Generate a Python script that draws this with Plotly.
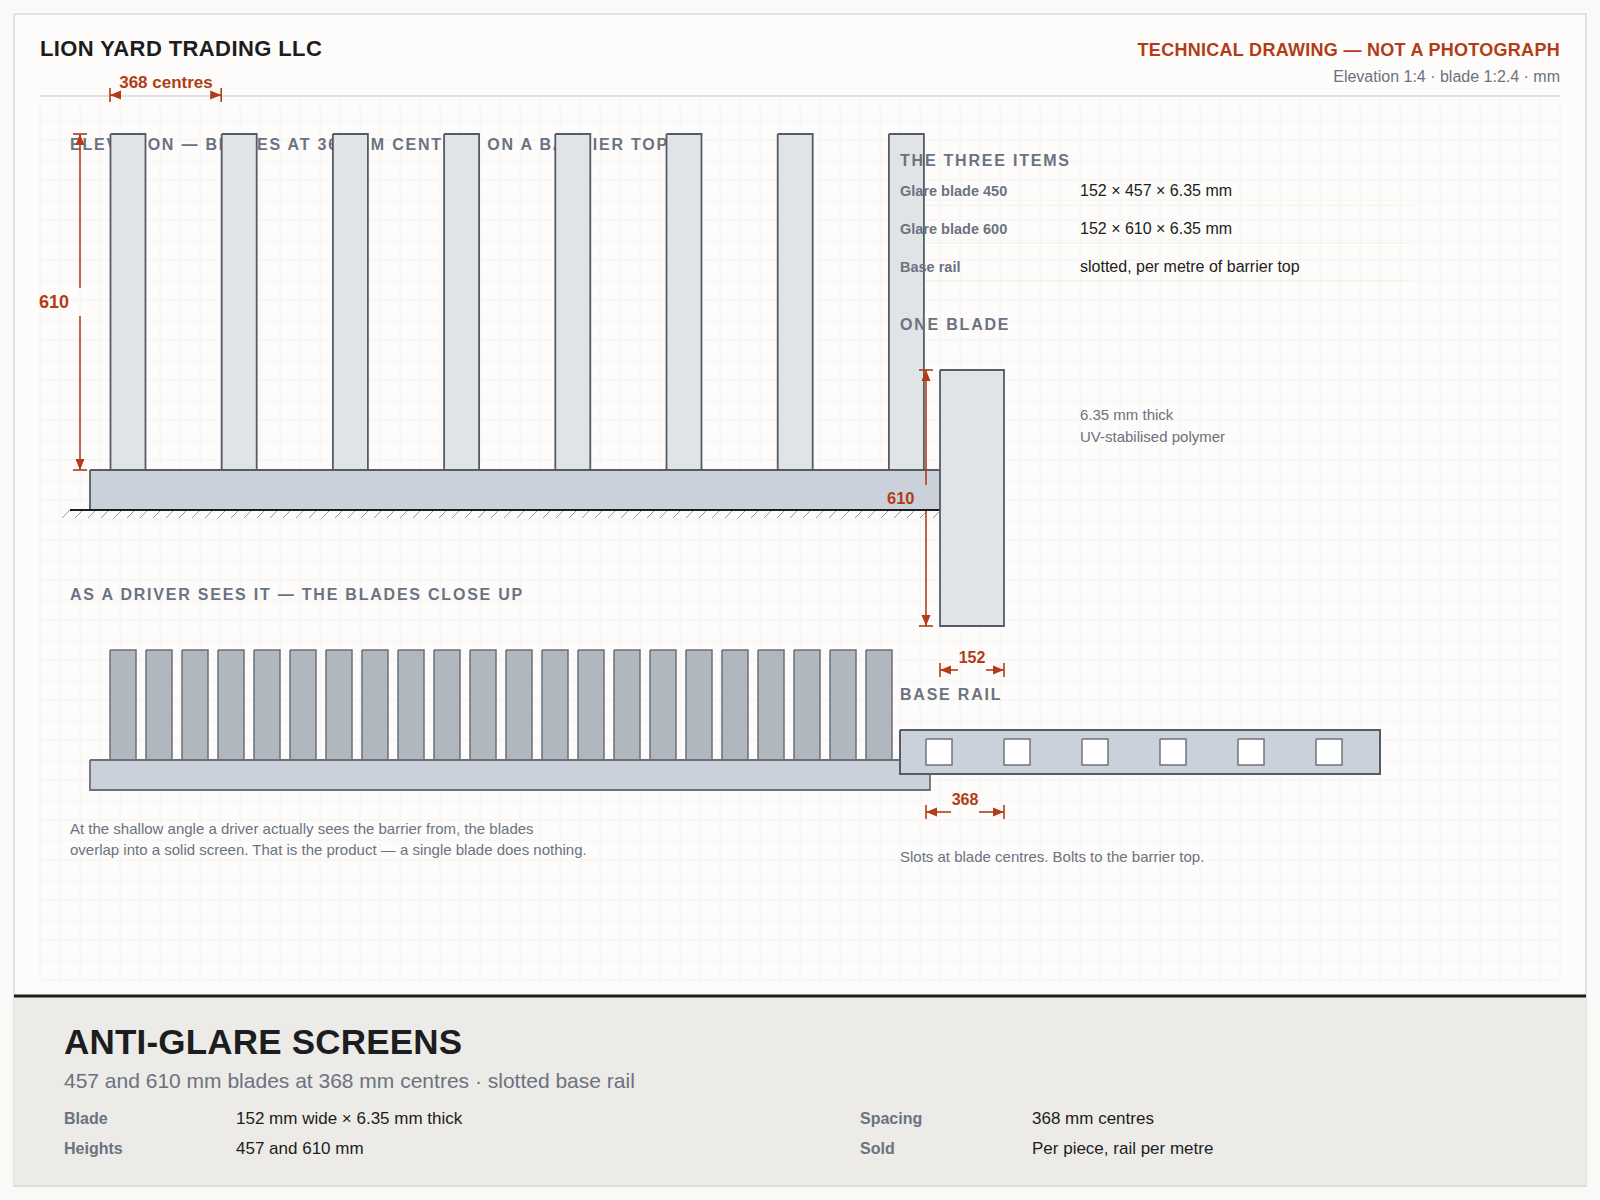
import json
import plotly.graph_objects as go

# ---------- values (millimetres) ----------
elevation_centres_mm = [0, 368, 736, 1104, 1472, 1840, 2208, 2576]
closeup_blade_index = [0, 1, 2, 3, 4, 5, 6, 7, 8, 9, 10, 11, 12, 13, 14, 15, 16, 17, 18, 19, 20, 21]
slot_centres_mm = [0, 368, 736, 1104, 1472, 1840]
blade_width_mm = 152
blade_height_mm = 610
centres_mm = 368

item_names = ["Glare blade 450", "Glare blade 600", "Base rail"]
item_specs = ["152 × 457 × 6.35 mm", "152 × 610 × 6.35 mm", "slotted, per metre of barrier top"]
footer_left_keys = ["Blade", "Heights"]
footer_left_vals = ["152 mm wide × 6.35 mm thick", "457 and 610 mm"]
footer_right_keys = ["Spacing", "Sold"]
footer_right_vals = ["368 mm centres", "Per piece, rail per metre"]
caption_lines = ["At the shallow angle a driver actually sees the barrier from, the blades",
                 "overlap into a solid screen. That is the product — a single blade does nothing."]
note_lines = ["6.35 mm thick", "UV-stabilised polymer"]

# ---------- drawing scales ----------
EX0, EXS = 110.5, 111.2 / 368      # elevation x: px per mm
ETOP, EBOT = 134, 470
EBW = 35
CX0, CSTEP, CW = 110, 36, 26
SLX0, SLS, SLW = 926, 78 / 368, 26

# ---------- colours ----------
PAGE = "#faf9f7"; SHEET = "#fdfcfa"; BORDER = "#d9dbd9"; FOOT = "#ecebe7"
INK = "#1c1d20"; GREY = "#6b7280"; RUST = "#b23c17"; GRID = "#f4f3f0"
BLADE = "#e0e4e7"; RAIL = "#cbd1da"; CLOSE = "#b1b7bf"; EDGE = "#565c66"; CEDGE = "#6b7076"

FONT = "Liberation Sans"
fig = go.Figure()


def poly(rects, fill, edge=None, w=1.8):
    xs, ys = [], []
    for x0, y0, x1, y1 in rects:
        xs += [x0, x1, x1, x0, x0, None]
        ys += [y0, y0, y1, y1, y0, None]
    fig.add_trace(go.Scatter(x=xs, y=ys, mode="lines", fill="toself", fillcolor=fill,
                             line=dict(color=edge or fill, width=w if edge else 0),
                             hoverinfo="skip", showlegend=False))


def lines(segs, color, w):
    xs, ys = [], []
    for x0, y0, x1, y1 in segs:
        xs += [x0, x1, None]
        ys += [y0, y1, None]
    fig.add_trace(go.Scatter(x=xs, y=ys, mode="lines", line=dict(color=color, width=w),
                             hoverinfo="skip", showlegend=False))


def label(x, base, s, size, color=INK, bold=False, anchor="left"):
    pos = {"left": "middle right", "right": "middle left", "center": "middle center"}[anchor]
    fig.add_trace(go.Scatter(x=[x], y=[base - 0.23 * size], mode="text", text=[s], textposition=pos,
                             textfont=dict(family=FONT, size=size, color=color,
                                           weight=700 if bold else 400),
                             hoverinfo="skip", showlegend=False, cliponaxis=False))


def tri(tips):
    xs, ys = [], []
    for (tx, ty, dx, dy) in tips:
        nx, ny = -dy * 0.41, dx * 0.41
        xs += [tx, tx + dx + nx, tx + dx - nx, tx, None]
        ys += [ty, ty + dy + ny, ty + dy - ny, ty, None]
    fig.add_trace(go.Scatter(x=xs, y=ys, mode="lines", fill="toself", fillcolor=RUST,
                             line=dict(color=RUST, width=0), hoverinfo="skip", showlegend=False))


def hdim(x0, x1, y, gap_l, gap_r):
    lines([(x0, y - 7, x0, y + 7), (x1, y - 7, x1, y + 7), (x0, y, gap_l, y), (gap_r, y, x1, y)], RUST, 1.6)
    tri([(x0, y, 11, 0), (x1, y, -11, 0)])


def vdim(x, y0, y1, gap_t, gap_b):
    lines([(x - 7, y0, x + 7, y0), (x - 7, y1, x + 7, y1), (x, y0, x, gap_t), (x, gap_b, x, y1)], RUST, 1.6)
    tri([(x, y0, 0, 11), (x, y1, 0, -11)])


# sheet
poly([(14, 14, 1586, 1186)], SHEET, BORDER, 1.5)
grid = [(x, 100, x, 980) for x in range(40, 1561, 20)] + [(40, y, 1560, y) for y in range(100, 981, 20)]
lines(grid, GRID, 0.9)
lines([(40, 96, 1560, 96)], "#d8d8d6", 1.5)

# header
label(40, 56, "LION YARD TRADING LLC", 22, INK, True)
label(1560, 56, "TECHNICAL DRAWING — NOT A PHOTOGRAPH", 18, RUST, True, "right")
label(1560, 82, "Elevation 1:4 · blade 1:2.4 · mm", 16, GREY, False, "right")

# elevation
lines([(900, 205 + 38 * i, 1410, 205 + 38 * i) for i in range(3)], "#eeede9", 1.2)
label(70, 149.5, "ELEVATION — BLADES AT 368 MM CENTRES ON A BARRIER TOP", 16, GREY, True)
poly([(EX0 + c * EXS, ETOP, EX0 + c * EXS + EBW, EBOT) for c in elevation_centres_mm], BLADE, EDGE)
poly([(90, EBOT, 940, 510)], RAIL, EDGE)
lines([(70 + 13 * i, 510, 62 + 13 * i, 518) for i in range(68)], "#8b8d8f", 0.9)
lines([(70, 510, 940, 510)], INK, 2)
vdim(80, ETOP, EBOT, 288, 316)
label(69, 308, str(blade_height_mm), 18, RUST, True, "right")
hdim(110, 110 + centres_mm * EXS, 95, 120, 110 + centres_mm * EXS - 10)
label(166, 87.5, f"{centres_mm} centres", 17, RUST, True, "center")

# items table
label(900, 165.5, "THE THREE ITEMS", 16, GREY, True)
for i, (n, s) in enumerate(zip(item_names, item_specs)):
    label(900, 196 + 38 * i, n, 14.5, GREY, True)
    label(1080, 196 + 38 * i, s, 16, INK)

# one blade
label(900, 329.5, "ONE BLADE", 16, GREY, True)
poly([(940, 370, 1004, 626)], BLADE, EDGE)
vdim(926, 370, 626, 485, 511)
label(914.5, 504, str(blade_height_mm), 16.5, RUST, True, "right")
for i, s in enumerate(note_lines):
    label(1080, 420 + 22 * i, s, 15, GREY)
hdim(940, 1004, 670, 958, 986)
label(972, 663, str(blade_width_mm), 16, RUST, True, "center")

# close up
label(70, 600, "AS A DRIVER SEES IT — THE BLADES CLOSE UP", 16, GREY, True)
poly([(CX0 + i * CSTEP, 650, CX0 + i * CSTEP + CW, 760) for i in closeup_blade_index], CLOSE, CEDGE, 1.5)
poly([(90, 760, 930, 790)], RAIL, CEDGE)
for i, s in enumerate(caption_lines):
    label(70, 834 + 21 * i, s, 15, GREY)

# base rail
label(900, 700, "BASE RAIL", 16, GREY, True)
poly([(900, 730, 1380, 774)], RAIL, EDGE, 2)
poly([(SLX0 + c * SLS, 739, SLX0 + c * SLS + SLW, 765) for c in slot_centres_mm], "#ffffff", "#6f747b", 1.5)
hdim(926, 1004, 812, 951, 979)
label(965, 805, str(centres_mm), 16, RUST, True, "center")
label(900, 862, "Slots at blade centres. Bolts to the barrier top.", 15, GREY)

# footer
poly([(14, 997, 1586, 1186)], FOOT)
lines([(14, 996, 1586, 996)], INK, 3)
lines([(14, 1186, 1586, 1186)], BORDER, 1.5)
label(64, 1053, "ANTI-GLARE SCREENS", 35, INK, True)
label(64, 1087.5, "457 and 610 mm blades at 368 mm centres · slotted base rail", 21, GREY)
for i in range(2):
    label(64, 1124 + 30 * i, footer_left_keys[i], 16, GREY, True)
    label(236, 1124 + 30 * i, footer_left_vals[i], 17, INK)
    label(860, 1124 + 30 * i, footer_right_keys[i], 16, GREY, True)
    label(1032, 1124 + 30 * i, footer_right_vals[i], 17, INK)

fig.update_layout(width=1600, height=1200, autosize=False,
                  margin=dict(l=0, r=0, t=0, b=0, pad=0),
                  paper_bgcolor=PAGE, plot_bgcolor=PAGE, showlegend=False,
                  xaxis=dict(range=[0, 1600], visible=False, fixedrange=True),
                  yaxis=dict(range=[1200, 0], visible=False, fixedrange=True),
                  hovermode=False)

SPACED = {"ELEVATION — BLADES AT 368 MM CENTRES ON A BARRIER TOP": 1.78,
          "AS A DRIVER SEES IT — THE BLADES CLOSE UP": 1.78,
          "THE THREE ITEMS": 1.78, "ONE BLADE": 1.78, "BASE RAIL": 1.78,
          "LION YARD TRADING LLC": 0.4,
          "TECHNICAL DRAWING — NOT A PHOTOGRAPH": 0.29,
          "ANTI-GLARE SCREENS": 0.2}
post = """
document.body.style.margin='0';document.body.style.background='%s';
var gd=document.getElementById('{plot_id}');var m=%s;
function ls(){gd.querySelectorAll('.textpoint text').forEach(function(t){var k=m[t.textContent];if(k)t.style.letterSpacing=k+'px';});}
ls();gd.on('plotly_afterplot',ls);
""" % (PAGE, json.dumps(SPACED, ensure_ascii=False))
fig.write_html("out.html", post_script=post, config={"displayModeBar": False})
